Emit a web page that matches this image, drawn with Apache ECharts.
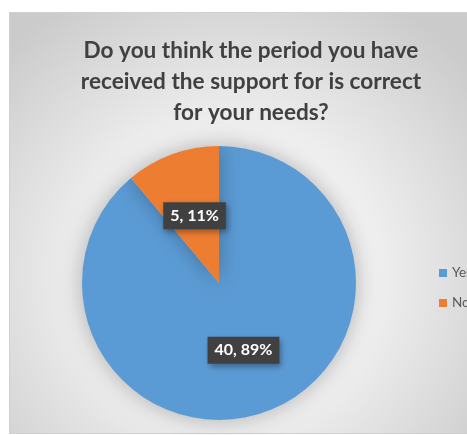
<!DOCTYPE html>
<html><head><meta charset="utf-8">
<script src="https://cdn.jsdelivr.net/npm/echarts@6/dist/echarts.min.js"></script>
<style>html,body{margin:0;padding:0;background:#fff;}#c{width:467px;height:435px;}</style>
</head><body><div id="c"></div>
<script>
const titleText = 'Do you think the period you have\nreceived the support for is correct\nfor your needs?';
const categories = ['Yes', 'No'];
const values = [40, 5];
const colors = ['#5b9bd5', '#ed7d31'];

const chart = echarts.init(document.getElementById('c'), null, {renderer: 'canvas'});
chart.setOption({
  animation: false,
  backgroundColor: '#ffffff',
  graphic: [{
    type: 'rect', left: 9, top: 12, z: -10,
    shape: {width: 470, height: 421},
    style: {
      fill: new echarts.graphic.RadialGradient(0.47, 0.62, 0.75, [
        {offset: 0, color: '#ffffff'},
        {offset: 0.45, color: '#f0f0f0'},
        {offset: 1, color: '#cbcbcb'}
      ]),
      stroke: '#d0d0d0', lineWidth: 1
    }
  }],
  title: {
    text: titleText,
    left: 246, top: 30, textAlign: 'center',
    textStyle: {fontFamily: 'Lato', fontWeight: 'bold', fontSize: 22.6, lineHeight: 31, color: '#404040'}
  },
  legend: {
    orient: 'vertical', left: 434, top: 261,
    itemWidth: 8, itemHeight: 8, itemGap: 16,
    icon: 'rect',
    textStyle: {fontFamily: 'Lato', fontSize: 13.5, color: '#595959', padding: [0,0,0,0]},
    data: categories
  },
  series: [{
    type: 'pie',
    center: [219, 283],
    radius: [0, 137],
    startAngle: 90,
    clockwise: true,
    percentPrecision: 0,
    data: categories.map((c, i) => ({name: c, value: values[i], itemStyle: {color: colors[i]}})),
    itemStyle: {shadowBlur: 22, shadowColor: 'rgba(0,0,0,0.28)'},
    label: {
      show: true, position: 'inside',
      formatter: '{c}, {d}%',
      fontFamily: 'Lato', fontWeight: 'bold', fontSize: 16, color: '#ffffff',
      backgroundColor: '#404040', padding: [6, 7, 5, 7],
      shadowBlur: 6, shadowColor: 'rgba(0,0,0,0.35)', shadowOffsetX: 2, shadowOffsetY: 3
    },
    labelLine: {show: false},
    emphasis: {disabled: true}
  }]
});
</script></body></html>
